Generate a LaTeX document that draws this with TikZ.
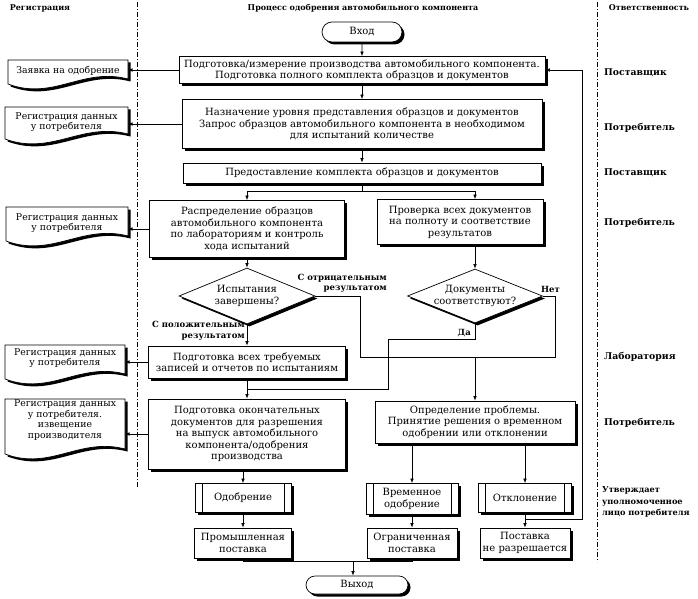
\documentclass[tikz,border=0pt]{standalone}
\usepackage{fontspec}
\setmainfont{DejaVu Serif}
\usetikzlibrary{arrows.meta,shapes.geometric,shapes.misc,shadows,calc}
\newcommand\docshape[7]{%
  \path[docp] (#2,#3) -- (#4,#3) -- (#4,{#5-5}) .. controls ({#2+0.62*(#4-#2)},{#5-17}) and ({#2+0.38*(#4-#2)},{#5+17}) .. (#2,#5) -- cycle;
  \node[doct] (#1t) at ({(#2+#4)/2},#6) {#7};
  \coordinate (#1) at (#4,#6);
}
\begin{document}
\begin{tikzpicture}[x=1pt,y=-1pt,
  every node/.style={font=\fontsize{10}{11.5}\selectfont, inner sep=1pt},
  shad/.style={drop shadow={shadow xshift=2.5pt,shadow yshift=-2.5pt,fill=black,opacity=1}},
  box/.style={draw, line width=0.7pt, fill=white, shad, align=center, inner sep=2pt},
  pbox/.style={box, path picture={
    \draw[line width=0.6pt] ([xshift=7pt]path picture bounding box.north west) -- ([xshift=7pt]path picture bounding box.south west)
      ([xshift=-7pt]path picture bounding box.north east) -- ([xshift=-7pt]path picture bounding box.south east);}},
  term/.style={rounded rectangle, draw, line width=0.7pt, fill=white, shad},
  dia/.style={diamond, aspect=2.5, draw, line width=0.7pt, fill=white, shad, align=center, inner sep=0pt},
  docp/.style={draw, line width=0.7pt, fill=white, shad},
  doct/.style={align=center, font=\fontsize{9.3}{10.5}\selectfont},
  arr/.style={line width=0.6pt, -{Latex[length=4.5pt,width=3.5pt]}},
  ln/.style={line width=0.6pt},
  hdr/.style={font=\bfseries\fontsize{8}{10}\selectfont},
  resp/.style={font=\bfseries\fontsize{9.3}{12}\selectfont, anchor=west, align=left},
  lbl/.style={font=\bfseries\fontsize{8.5}{10.5}\selectfont, inner sep=1pt},
  lane/.style={line width=0.5pt, dash pattern=on 5pt off 2pt on 1pt off 2pt},
]
\fill[white] (0,0) rectangle (698,599);
\useasboundingbox (0,0) rectangle (698,599);

% lanes
\draw[lane] (137,2) -- (137,487);
\draw[lane] (597,2) -- (597,562);

% headers
\node[hdr] (h1) at (40,8) {Регистрация};
\node[hdr] (h2) at (363,8) {Процесс одобрения автомобильного компонента};
\node[hdr] (h3) at (649,8) {Ответственность};

% responsibility
\node[resp] (r1) at (603,73) {Поставщик};
\node[resp] (r2) at (603,128) {Потребитель};
\node[resp] (r3) at (603,173) {Поставщик};
\node[resp] (r4) at (603,223) {Потребитель};
\node[resp] (r5) at (603,357) {Лаборатория};
\node[resp] (r6) at (603,423) {Потребитель};
\node[resp, font=\bfseries\fontsize{8.2}{11.5}\selectfont] (r7) at (601,502) {Утверждает\\уполномоченное\\лицо потребителя};

% main nodes
\node[term, minimum width=82pt, minimum height=20pt] (vhod) at (362,32) {Вход};
\node[box, minimum width=366pt, minimum height=27pt] (b1) at (362,70) {Подготовка/измерение производства автомобильного компонента.\\Подготовка полного комплекта образцов и документов};
\node[box, minimum width=360pt, minimum height=49pt] (b2) at (362,124) {Назначение уровня представления образцов и документов\\Запрос образцов автомобильного компонента в необходимом\\для испытаний количестве};
\node[box, minimum width=358pt, minimum height=20pt] (b3) at (362,173) {Предоставление комплекта образцов и документов};
\node[box, minimum width=195pt, minimum height=57pt] (b4) at (247,229) {Распределение образцов\\автомобильного компонента\\по лабораториям и контроль\\хода испытаний};
\node[box, minimum width=166pt, minimum height=45pt] (b5) at (460,222) {Проверка всех документов\\на полноту и соответствие\\результатов};
\node[dia, minimum width=136pt, minimum height=56pt] (d1) at (247,296) {Испытания\\завершены?};
\node[dia, minimum width=132pt, minimum height=54pt] (d2) at (475,296) {Документы\\соответствуют?};
\node[box, minimum width=197pt, minimum height=32pt] (b6) at (247,362) {Подготовка всех требуемых\\записей и отчетов по испытаниям};
\node[box, minimum width=197pt, minimum height=70pt] (b7) at (247,434) {Подготовка окончательных\\документов для разрешения\\на выпуск автомобильного\\компонента/одобрения\\производства};
\node[box, minimum width=200pt, minimum height=42pt] (b8) at (475,422) {Определение проблемы.\\Принятие решения о временном\\одобрении или отклонении};
\node[pbox, minimum width=96pt, minimum height=29pt] (p1) at (243,498) {Одобрение};
\node[pbox, minimum width=92pt, minimum height=31pt] (p2) at (412,499) {Временное\\одобрение};
\node[pbox, minimum width=93pt, minimum height=29pt] (p3) at (525,498) {Отклонение};
\node[box, minimum width=97pt, minimum height=30pt] (t1) at (243,543) {Промышленная\\поставка};
\node[box, minimum width=90pt, minimum height=30pt] (t2) at (412,543) {Ограниченная\\поставка};
\node[box, minimum width=90pt, minimum height=30pt] (t3) at (525,543) {Поставка\\не разрешается};
\node[term, minimum width=104pt, minimum height=18pt] (vyhod) at (357,585) {Выход};

% documents
\docshape{doc1}{8}{60}{128}{84}{71}{Заявка на одобрение}
\docshape{doc2}{5}{107}{128}{139}{122}{Регистрация данных\\у потребителя}
\docshape{doc3}{6}{207}{128}{241}{223}{Регистрация данных\\у потребителя}
\docshape{doc4}{5}{345}{125}{379}{358}{Регистрация данных\\у потребителя}
\docshape{doc5}{5}{399}{125}{454}{420}{Регистрация данных\\у потребителя.\\извещение\\производителя}

% connectors
\draw[arr] (vhod) -- (b1);
\draw[arr] (b1) -- (b2);
\draw[arr] (b2) -- (b3);
\draw[ln] (b3.south) -- (362,191) coordinate (sp);
\draw[ln] (sp -| b4.north) -- (sp -| d2.north);
\draw[arr] (sp -| b4.north) -- (b4.north);
\draw[arr] (sp -| d2.north) -- (d2.north |- b5.north);
\draw[arr] (d2.north |- b5.south) -- (d2.north);
\draw[arr] (b4) -- (d1);
\draw[arr] (d1) -- (b6);
\draw[arr] (b6) -- (b7);
\draw[ln] (d1.east) -| (360,357) -- (555,357) |- (d2.east);
\draw[arr] (475,357) -- (b8.north);
\draw[ln] (d2.south) |- (388,339) |- (247,389);
\draw[arr] (p1.north |- b7.south) -- (p1.north);
\draw[arr] (p2.north |- b8.south) -- (p2.north);
\draw[arr] (p3.north |- b8.south) -- (p3.north);
\draw[arr] (p1) -- (t1);
\draw[arr] (p2) -- (t2);
\draw[arr] (p3) -- (t3);
\draw[arr] (525,519) -| (582,70) -- (b1.east);
\coordinate (mx) at (353,561);
\draw[ln] (t1.south) |- (mx);
\draw[ln] (t2.south) |- (mx);
\draw[arr] (mx) -- (mx |- vyhod.north);

\draw[arr] (b1.west) -- (b1.west -| doc1);
\draw[arr] (b2.west) -- (b2.west -| doc2);
\draw[arr] (b4.west) -- (b4.west -| doc3);
\draw[arr] (b6.west) -- (b6.west -| doc4);
\draw[arr] (b7.west) -- (b7.west -| doc5);

% labels
\node[lbl, anchor=south east, align=right] (l1) at (388,294) {С отрицательным\\результатом};
\node[lbl, anchor=north east, align=right] (l2) at (246,320) {С положительным\\результатом};
\node[lbl, anchor=south west] (l3) at (540,294) {Нет};
\node[lbl, anchor=south east] (l4) at (472,338) {Да};
\end{tikzpicture}
\end{document}
